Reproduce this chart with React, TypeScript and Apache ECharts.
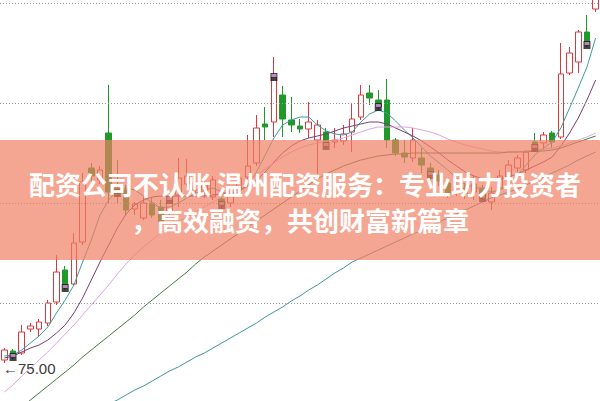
import React, { useEffect, useRef } from "react";
import * as echarts from "echarts";

// [open, close, lowest, highest]
const ohlc: number[][] = [
  [75.15, 75.65, 75.0, 75.75],
  [75.6, 75.3, 75.2, 75.7],
  [75.5, 76.55, 75.4, 76.9],
  [76.7, 76.85, 76.55, 77.0],
  [76.7, 77.05, 76.3, 77.2],
  [77.0, 78.0, 76.85, 78.15],
  [78.05, 79.55, 77.9, 80.4],
  [79.65, 78.75, 78.65, 79.85],
  [78.95, 81.0, 78.85, 81.5],
  [81.05, 84.05, 80.9, 84.5],
  [84.75, 84.35, 84.05, 85.0],
  [84.15, 84.65, 83.95, 84.85],
  [86.5, 83.55, 83.0, 88.9],
  [83.75, 83.5, 83.0, 85.15],
  [83.65, 82.65, 82.4, 83.9],
  [82.7, 82.95, 82.4, 83.05],
  [82.25, 83.0, 82.15, 83.3],
  [83.0, 82.4, 82.25, 83.25],
  [82.8, 82.05, 81.9, 83.15],
  [82.55, 83.15, 82.4, 83.65],
  [83.4, 84.25, 82.8, 85.25],
  [83.95, 84.35, 83.8, 85.2],
  [83.65, 84.05, 83.4, 84.4],
  [83.55, 83.9, 83.25, 84.15],
  [83.3, 84.15, 83.15, 84.35],
  [83.2, 82.9, 82.65, 83.55],
  [83.0, 83.55, 82.8, 83.8],
  [83.65, 84.25, 83.5, 84.5],
  [84.3, 84.85, 84.15, 86.4],
  [85.0, 86.75, 84.85, 87.4],
  [86.95, 86.8, 86.15, 87.8],
  [87.05, 89.3, 86.3, 90.3],
  [88.4, 87.2, 86.3, 88.85],
  [87.15, 86.9, 86.55, 88.3],
  [86.85, 86.7, 86.5, 87.2],
  [86.7, 87.05, 86.25, 88.05],
  [86.15, 86.9, 84.15, 87.15],
  [86.55, 85.85, 85.75, 86.75],
  [86.05, 86.15, 85.75, 86.75],
  [86.1, 86.45, 85.9, 86.9],
  [86.55, 87.2, 85.55, 88.0],
  [87.3, 88.4, 87.15, 88.9],
  [88.5, 88.25, 87.9, 88.9],
  [88.15, 87.8, 87.65, 88.65],
  [88.15, 86.15, 85.75, 89.2],
  [86.15, 85.5, 85.35, 86.25],
  [85.5, 85.3, 85.0, 86.15],
  [85.25, 86.15, 85.05, 86.75],
  [85.25, 84.9, 84.5, 85.75],
  [84.75, 84.4, 83.8, 85.0],
  [84.4, 84.1, 83.85, 84.65],
  [84.0, 83.5, 83.25, 84.25],
  [83.55, 83.8, 83.35, 84.05],
  [83.75, 83.45, 83.2, 84.0],
  [83.55, 83.95, 83.15, 84.4],
  [83.75, 83.25, 83.15, 83.9],
  [83.05, 83.5, 82.65, 83.8],
  [83.75, 84.35, 83.55, 84.65],
  [84.3, 84.9, 84.15, 85.15],
  [84.75, 85.25, 84.55, 85.4],
  [84.65, 85.55, 84.5, 85.65],
  [86.05, 85.75, 85.55, 86.5],
  [86.0, 86.4, 85.65, 86.55],
  [86.5, 86.05, 85.75, 86.6],
  [86.3, 89.45, 86.2, 91.0],
  [89.5, 90.5, 89.4, 90.8],
  [90.05, 91.55, 89.5, 91.65],
  [91.55, 90.9, 90.8, 92.4],
  [92.7, 93.65, 92.55, 94.05],
];

const ma5 = [
  75.35, 75.4, 75.65, 76.0, 76.35, 76.8, 77.5, 78.15, 78.9, 80.05,
  81.15, 82.4, 83.15, 83.65, 83.75, 83.65, 83.35, 83.0, 82.75, 82.8,
  83.0, 83.25, 83.5, 83.65, 83.75, 83.55, 83.45, 83.55, 83.9, 84.55,
  85.4, 86.25, 86.9, 87.15, 87.3, 87.3, 86.9, 86.6, 86.45, 86.4,
  86.55, 87.05, 87.45, 87.65, 87.5, 87.1, 86.65, 86.25, 85.8, 85.35,
  85.0, 84.65, 84.25, 83.9, 83.8, 83.7, 83.55, 83.65, 83.9, 84.4,
  84.9, 85.4, 85.75, 86.05, 86.75, 87.75, 88.75, 89.8, 91.25,
];

const ma10 = [
  75.25, 75.35, 75.55, 75.75, 75.9, 76.15, 76.5, 76.9, 77.5, 78.25,
  79.15, 80.05, 80.9, 81.75, 82.45, 82.9, 83.15, 83.3, 83.35, 83.35,
  83.35, 83.35, 83.35, 83.35, 83.4, 83.45, 83.5, 83.65, 83.85, 84.15,
  84.55, 85.05, 85.5, 85.85, 86.1, 86.25, 86.35, 86.45, 86.6, 86.75,
  86.85, 86.95, 87.05, 87.05, 86.95, 86.75, 86.55, 86.35, 86.1, 85.8,
  85.5, 85.15, 84.85, 84.55, 84.35, 84.2, 84.15, 84.2, 84.3, 84.45,
  84.65, 84.85, 85.05, 85.3, 85.85, 86.5, 87.25, 88.15, 89.15,
];

const ma20 = [
  73.55, 73.9, 74.35, 74.75, 75.15, 75.55, 76.0, 76.45, 76.9, 77.4,
  77.9, 78.4, 78.9, 79.45, 79.95, 80.4, 80.8, 81.15, 81.5, 81.8,
  82.05, 82.3, 82.55, 82.8, 83.05, 83.3, 83.55, 83.8, 84.1, 84.4,
  84.7, 85.0, 85.3, 85.55, 85.75, 85.9, 86.0, 86.1, 86.15, 86.25,
  86.4, 86.55, 86.7, 86.8, 86.8, 86.8, 86.8, 86.75, 86.65, 86.55,
  86.4, 86.2, 86.05, 85.9, 85.8, 85.7, 85.6, 85.55, 85.55, 85.55,
  85.6, 85.65, 85.7, 85.75, 85.85, 86.0, 86.15, 86.3, 86.5,
];

const ma60 = [
  72.05, 72.4, 72.8, 73.15, 73.5, 73.85, 74.2, 74.55, 74.9, 75.3,
  75.65, 76.0, 76.35, 76.7, 77.05, 77.4, 77.8, 78.15, 78.5, 78.85,
  79.2, 79.55, 79.95, 80.3, 80.6, 80.9, 81.2, 81.5, 81.8, 82.1,
  82.4, 82.7, 83.0, 83.3, 83.6, 83.9, 84.2, 84.45, 84.65, 84.85,
  85.0, 85.15, 85.25, 85.35, 85.4, 85.45, 85.45, 85.5, 85.5, 85.5,
  85.5, 85.5, 85.5, 85.5, 85.5, 85.5, 85.5, 85.5, 85.55, 85.55,
  85.55, 85.6, 85.6, 85.65, 85.75, 85.9, 86.05, 86.2, 86.35,
];

const ma120 = [
  70.1, 70.35, 70.6, 70.8, 71.05, 71.3, 71.55, 71.75, 72.0, 72.25,
  72.5, 72.7, 72.95, 73.15, 73.4, 73.65, 73.85, 74.1, 74.35, 74.6,
  74.8, 75.05, 75.3, 75.5, 75.75, 76.0, 76.25, 76.5, 76.75, 77.0,
  77.3, 77.55, 77.8, 78.1, 78.35, 78.65, 78.9, 79.2, 79.5, 79.75,
  80.05, 80.25, 80.45, 80.65, 80.85, 81.05, 81.25, 81.45, 81.65, 81.85,
  82.05, 82.25, 82.45, 82.65, 82.85, 83.05, 83.25, 83.4, 83.55, 83.7,
  83.9, 84.1, 84.3, 84.5, 84.7, 84.9, 85.15, 85.35, 85.55,
];

const gridLevels = [93, 88, 83, 78];
const markerIdx = [1, 7, 13, 19, 25, 31, 37, 43, 49, 55, 61, 67];
const lowLabel = "←75.00";
const titleLine1 = "配资公司不认账 温州配资服务：专业助力投资者";
const titleLine2 = "，高效融资，共创财富新篇章";

const categories = ohlc.map((_, i) => String(i + 1));

export default function App() {
  const ref = useRef<HTMLDivElement>(null);

  useEffect(() => {
    document.body.style.margin = "0";
    const chart = echarts.init(ref.current!, null, { renderer: "svg" });

    const lineSeries = (name: string, data: number[], color: string) => ({
      name,
      type: "line",
      data,
      showSymbol: false,
      symbol: "none",
      smooth: false,
      silent: true,
      z: 4,
      lineStyle: { width: 1, color },
    });

    const markerData = markerIdx.map((i) => [i, ohlc[i][1]]);

    const titleStyle = {
      fill: "#ffffff",
      fontSize: 26,
      fontWeight: "bold",
      fontFamily: "Noto Sans CJK SC",
      align: "center",
      verticalAlign: "middle",
    };

    chart.setOption({
      animation: false,
      backgroundColor: "#ffffff",
      grid: { left: -1, right: -1, top: 0, bottom: 0 },
      xAxis: {
        type: "category",
        data: categories,
        boundaryGap: true,
        show: false,
      },
      yAxis: {
        type: "value",
        min: 73.1,
        max: 93.15,
        show: false,
        splitLine: { show: false },
      },
      series: [
        {
          name: "K",
          type: "candlestick",
          data: ohlc,
          barWidth: 6,
          z: 3,
          itemStyle: {
            color: "#ffffff",
            color0: "#1f9a2a",
            borderColor: "#d63a3e",
            borderColor0: "#1f9a2a",
            borderWidth: 1,
          },
          markLine: {
            silent: true,
            symbol: ["none", "none"],
            label: { show: false },
            lineStyle: { color: "#999999", type: [1, 2], width: 1 },
            data: gridLevels.map((v) => ({ yAxis: v })),
          },
        },
        lineSeries("MA5", ma5, "#3a9c9e"),
        lineSeries("MA10", ma10, "#7a3b7a"),
        lineSeries("MA20", ma20, "#e2a3e2"),
        lineSeries("MA60", ma60, "#3d7d3d"),
        lineSeries("MA120", ma120, "#3f949e"),
        {
          name: "signal",
          type: "scatter",
          data: markerData,
          symbol: "rect",
          symbolSize: [7, 8],
          silent: true,
          z: 5,
          itemStyle: { color: "#151515" },
        },
        {
          name: "signal2",
          type: "scatter",
          data: markerData,
          symbol: "rect",
          symbolSize: [5, 3],
          symbolOffset: [0, -1.5],
          silent: true,
          z: 6,
          itemStyle: { color: "#e59be5" },
        },
      ],
      graphic: [
        {
          type: "text",
          x: 3,
          y: 368,
          z: 50,
          style: {
            text: lowLabel,
            fill: "#3a3a3a",
            fontSize: 15,
            fontFamily: "Liberation Sans, DejaVu Sans, sans-serif",
            verticalAlign: "middle",
            align: "left",
          },
        },
        {
          type: "rect",
          z: 100,
          shape: { x: 0, y: 140, width: 600, height: 120 },
          style: { fill: "rgba(240,128,100,0.7)" },
        },
        {
          type: "text",
          x: 305,
          y: 183.5,
          z: 101,
          style: { ...titleStyle, text: titleLine1 },
        },
        {
          type: "text",
          x: 300,
          y: 219.5,
          z: 101,
          style: { ...titleStyle, text: titleLine2 },
        },
      ],
    });

    return () => chart.dispose();
  }, []);

  return <div ref={ref} style={{ width: 600, height: 401 }} />;
}
